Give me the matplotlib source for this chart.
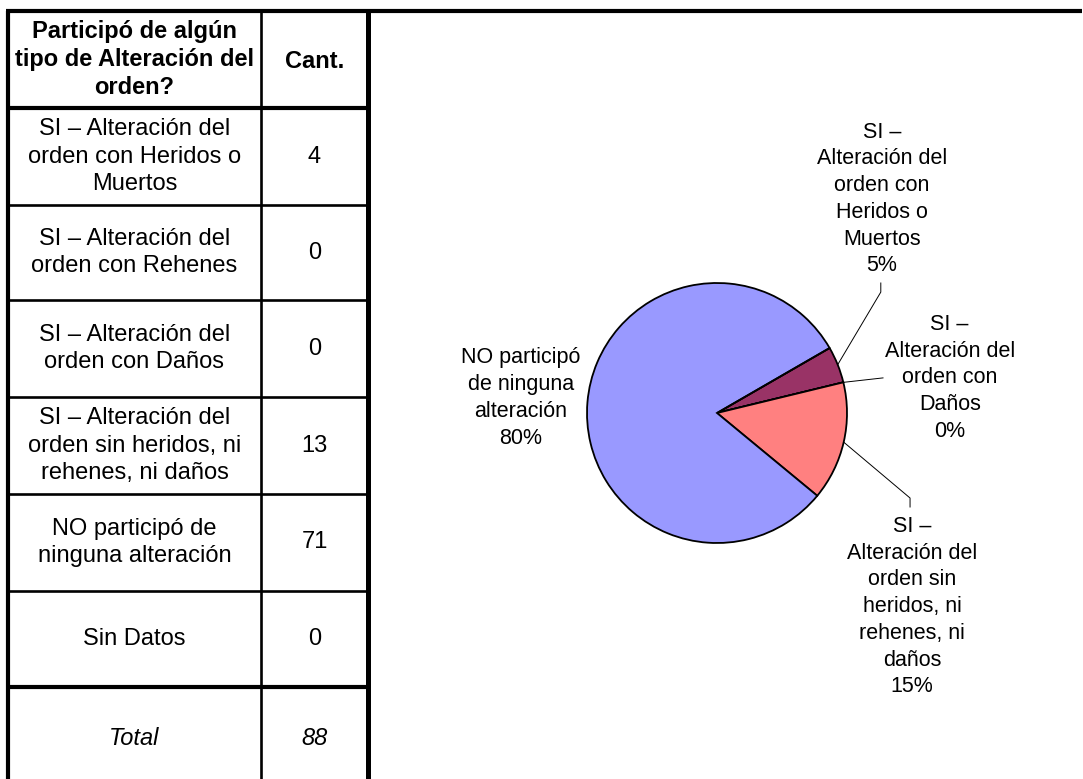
import matplotlib
matplotlib.use("Agg")
import matplotlib.pyplot as plt
import numpy as np

# datos de la tabla
encabezado = "Participó de algún\ntipo de Alteración del\norden?"
encabezado_cant = "Cant."
categorias = [
    "SI – Alteración del\norden con Heridos o\nMuertos",
    "SI – Alteración del\norden con Rehenes",
    "SI – Alteración del\norden con Daños",
    "SI – Alteración del\norden sin heridos, ni\nrehenes, ni daños",
    "NO participó de\nninguna alteración",
    "Sin Datos",
]
cantidades = [4, 0, 0, 13, 71, 0]
total = 88

# textos del grafico de torta
pie_textos = [
    "SI –\nAlteración del\norden con\nHeridos o\nMuertos",
    "SI –\nAlteración del\norden con\nRehenes",
    "SI –\nAlteración del\norden con\nDaños",
    "SI –\nAlteración del\norden sin\nheridos, ni\nrehenes, ni\ndaños",
    "NO participó\nde ninguna\nalteración",
    "Sin Datos",
]
pie_pct = ["5%", "0%", "0%", "15%", "80%", "0%"]
colores = ["#993366", "#FFFFCC", "#CCFFFF", "#FF8080", "#9999FF", "#660066"]

plt.rcParams['font.family'] = ['Liberation Sans', 'DejaVu Sans']

W, H = 1083, 779
fig = plt.figure(figsize=(W / 100, H / 100), dpi=100)

# ---- tabla (ejes en pixeles) ----
tab = fig.add_axes([0, 0, 1, 1])
tab.set_xlim(0, W)
tab.set_ylim(H, 0)
tab.axis('off')

x_izq, x_med, x_der = 8, 261, 368
filas_y = [11, 108, 205, 300, 397, 494, 591, 687, 790]
grueso = 3.0
fino = 1.9

tab.plot([x_izq - 2, W - 1], [11, 11], color='black', lw=grueso, solid_capstyle='butt')
for i, y in enumerate(filas_y[1:-1]):
    lw = grueso if i in (0, 6) else fino
    tab.plot([x_izq, x_der + 2], [y, y], color='black', lw=lw, solid_capstyle='butt')
tab.plot([x_izq, x_izq], [11, H], color='black', lw=grueso, solid_capstyle='butt')
tab.plot([x_med, x_med], [11, H], color='black', lw=fino, solid_capstyle='butt')
tab.plot([x_der, x_der], [11, H], color='black', lw=3.6, solid_capstyle='butt')

fs_tabla = 17
col1 = (x_izq + x_med) / 2
col2 = (x_med + x_der) / 2
tab.text(col1, (filas_y[0] + filas_y[1]) / 2, encabezado, ha='center', va='center',
         fontsize=fs_tabla, fontweight='bold', linespacing=1.3)
tab.text(col2, (filas_y[0] + filas_y[1]) / 2 + 2, encabezado_cant, ha='center', va='center',
         fontsize=fs_tabla, fontweight='bold')
for i, (cat, n) in enumerate(zip(categorias, cantidades)):
    yc = (filas_y[i + 1] + filas_y[i + 2]) / 2
    tab.text(col1, yc, cat, ha='center', va='center', fontsize=fs_tabla, linespacing=1.3)
    tab.text(col2, yc, str(n), ha='center', va='center', fontsize=fs_tabla)
yt = (filas_y[7] + filas_y[8]) / 2
tab.text(col1, yt, "Total", ha='center', va='center', fontsize=fs_tabla, style='italic')
tab.text(col2, yt, str(total), ha='center', va='center', fontsize=fs_tabla, style='italic')

# ---- grafico de torta ----
cx, cy, r = 717, 413, 130
ax = fig.add_axes([(cx - r) / W, (H - cy - r) / H, 2 * r / W, 2 * r / H])
wedges, _ = ax.pie(cantidades, colors=colores, startangle=30, counterclock=False,
                   radius=1, wedgeprops=dict(edgecolor='black', linewidth=1.3))
ax.set_xlim(-1, 1)
ax.set_ylim(-1, 1)
ax.axis('off')

# posiciones de las etiquetas visibles (en radios de la torta)
etiquetas_pos = {0: (1.27, 1.646), 2: (1.79, 0.27), 3: (1.5, -1.49), 4: (-1.51, 0.115)}
lideres = {0: [(1.26, 0.93), (1.26, 1.0)], 2: [(1.277, 0.27)],
           3: [(1.485, -0.654), (1.485, -0.723)]}

for i, (tx, ty) in etiquetas_pos.items():
    ax.text(tx, ty, pie_textos[i] + "\n" + pie_pct[i], ha='center', va='center',
            fontsize=15.5, linespacing=1.36, clip_on=False)
    if i in lideres:
        w = wedges[i]
        ang = np.deg2rad((w.theta1 + w.theta2) / 2)
        xs = [np.cos(ang)] + [p[0] for p in lideres[i]]
        ys = [np.sin(ang)] + [p[1] for p in lideres[i]]
        ax.plot(xs, ys, color='black', lw=0.7, clip_on=False)

fig.savefig("out.png", dpi=100)
